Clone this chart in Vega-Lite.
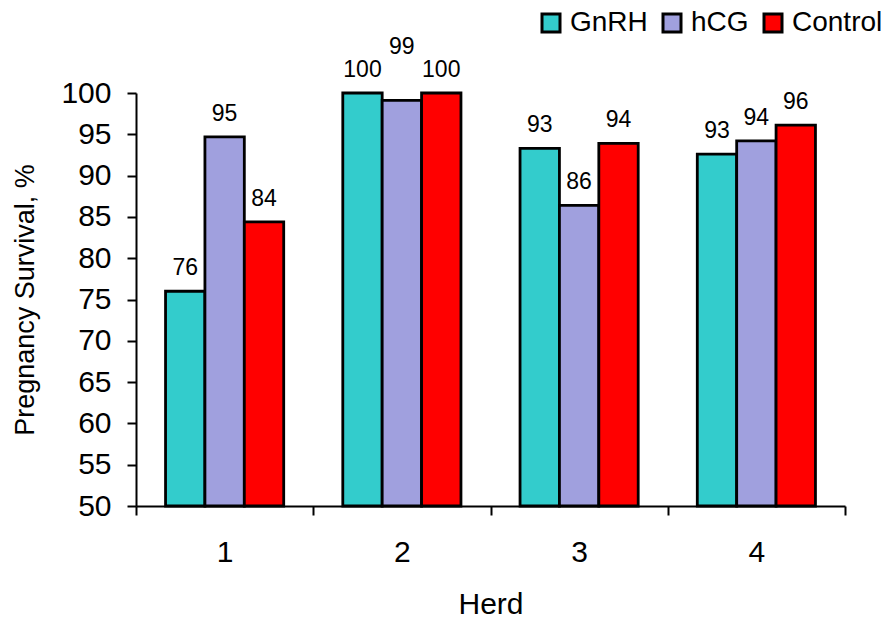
{
  "$schema": "https://vega.github.io/schema/vega-lite/v6.json",
  "width": 709,
  "height": 413,
  "autosize": {"type": "none"},
  "padding": {"left": 136, "top": 93, "right": 49, "bottom": 116},
  "background": "white",
  "config": {
    "view": {"stroke": null},
    "font": "Liberation Sans",
    "axis": {
      "grid": false,
      "domainColor": "black",
      "domainWidth": 2,
      "tickColor": "black",
      "tickWidth": 2,
      "tickSize": 9,
      "labelColor": "black",
      "titleColor": "black",
      "labelFont": "Liberation Sans",
      "titleFont": "Liberation Sans",
      "titleFontWeight": "normal",
      "labelFontSize": 30
    }
  },
  "data": {
    "values": [
      {"herd": "1", "treatment": "GnRH", "survival": 76.0},
      {"herd": "1", "treatment": "hCG", "survival": 94.7},
      {"herd": "1", "treatment": "Control", "survival": 84.4},
      {"herd": "2", "treatment": "GnRH", "survival": 100},
      {"herd": "2", "treatment": "hCG", "survival": 99.1},
      {"herd": "2", "treatment": "Control", "survival": 100},
      {"herd": "3", "treatment": "GnRH", "survival": 93.3},
      {"herd": "3", "treatment": "hCG", "survival": 86.4},
      {"herd": "3", "treatment": "Control", "survival": 93.9},
      {"herd": "4", "treatment": "GnRH", "survival": 92.6},
      {"herd": "4", "treatment": "hCG", "survival": 94.2},
      {"herd": "4", "treatment": "Control", "survival": 96.1}
    ]
  },
  "encoding": {
    "x": {
      "field": "herd",
      "type": "nominal",
      "scale": {"paddingInner": 0, "paddingOuter": 0},
      "axis": {
        "title": "Herd",
        "titleFontSize": 30,
        "titlePadding": 22,
        "labelAngle": 0,
        "labelPadding": 22,
        "tickBand": "extent"
      }
    },
    "xOffset": {
      "field": "treatment",
      "type": "nominal",
      "sort": ["GnRH", "hCG", "Control"],
      "scale": {"paddingInner": 0, "paddingOuter": 0.75}
    },
    "y": {
      "field": "survival",
      "type": "quantitative",
      "scale": {"domain": [50, 100], "zero": false, "nice": false},
      "axis": {
        "title": "Pregnancy Survival, %",
        "titleFontSize": 27,
        "titlePadding": 21,
        "values": [50, 55, 60, 65, 70, 75, 80, 85, 90, 95, 100],
        "labelPadding": 16
      }
    }
  },
  "layer": [
    {
      "mark": {"type": "bar", "stroke": "black", "strokeWidth": 2.8},
      "encoding": {
        "y2": {"datum": 50},
        "color": {
          "field": "treatment",
          "type": "nominal",
          "scale": {"domain": ["GnRH", "hCG", "Control"], "range": ["#33CCCC", "#A0A0DE", "#FF0000"]},
          "legend": {
            "title": null,
            "orient": "none",
            "legendX": 401,
            "legendY": -84,
            "direction": "horizontal",
            "symbolType": "square",
            "symbolSize": 324,
            "symbolStrokeColor": "black",
            "symbolStrokeWidth": 3,
            "symbolOpacity": 1,
            "labelFontSize": 28,
            "labelFont": "Liberation Sans",
            "labelColor": "black",
            "labelOffset": 5,
            "columnPadding": 9,
            "padding": 0
          }
        }
      }
    },
    {
      "transform": [{"filter": "!(datum.herd == '2' && datum.treatment == 'hCG')"}],
      "mark": {"type": "text", "baseline": "alphabetic", "dy": -16, "fontSize": 23, "font": "Liberation Sans", "color": "black"},
      "encoding": {"text": {"field": "survival", "type": "quantitative", "format": ".0f"}}
    },
    {
      "transform": [{"filter": "datum.herd == '2' && datum.treatment == 'hCG'"}],
      "mark": {"type": "text", "baseline": "alphabetic", "dy": -46, "fontSize": 23, "font": "Liberation Sans", "color": "black"},
      "encoding": {"text": {"field": "survival", "type": "quantitative", "format": ".0f"}}
    }
  ]
}
